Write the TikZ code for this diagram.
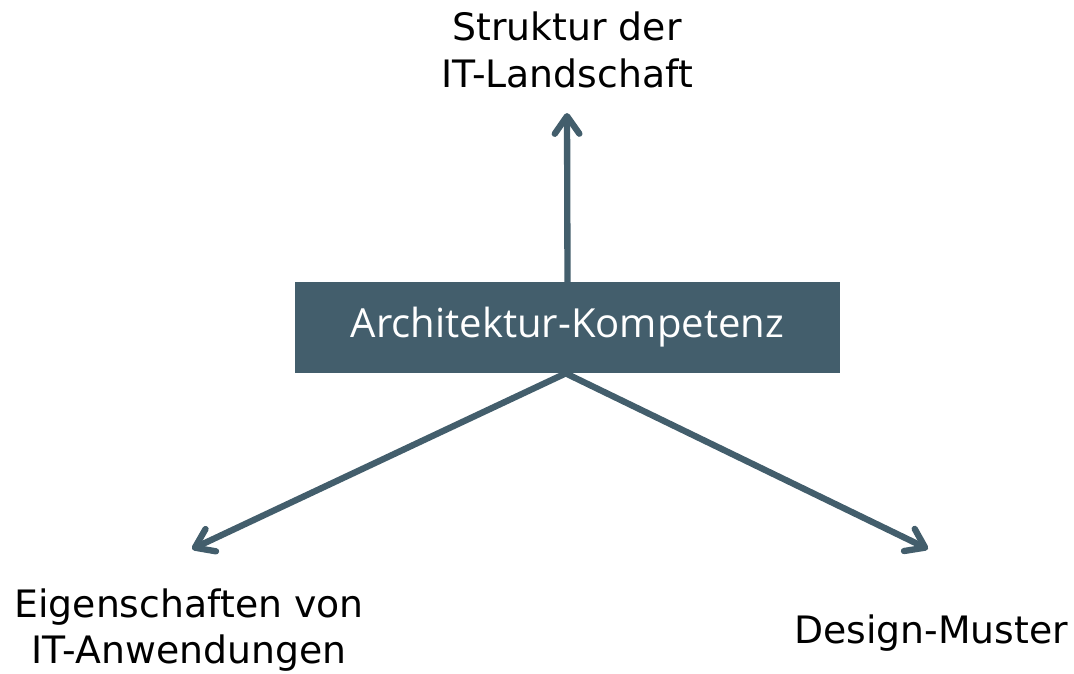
\documentclass[tikz,border=0pt]{standalone}
\usepackage{fontspec}
\setmainfont{DejaVu Sans}
\newfontfamily\boxfont{Open Sans}
\usepackage{xcolor}
\usetikzlibrary{arrows.meta}

\definecolor{slate}{RGB}{67,94,108}

\tikzset{
    kompetenz/.style={fill=slate, text=white, minimum width=545*0.02cm, minimum height=91*0.02cm, inner sep=0pt, font=\boxfont\fontsize{22.8}{27}\selectfont},
    thema/.style={align=center, font=\fontsize{21.5}{26.5}\selectfont, inner sep=0pt},
    pfeil/.style={draw=slate, line width=3.6pt, line cap=round, -{Straight Barb[length=10pt, width=14pt, line cap=round, line join=round]}}
}

\begin{document}
\begin{tikzpicture}[x=0.02cm, y=-0.02cm]
        \useasboundingbox (0,0) rectangle (1074,673);

        \node[kompetenz] (kern) at (567.5,327.5) {\raisebox{-2pt}{Architektur-Kompetenz}};

        \node[thema] (struktur) at (567,50) {Struktur der\\IT-Landschaft};
        \node[thema] (eigen) at (189,630) {Eigenschaften von\\IT-Anwendungen};
        \node[thema] (design) at (931,633) {Design-Muster};

        \coordinate (oben) at (567,113);
        \coordinate (links) at (192,549);
        \coordinate (rechts) at (928,549);

        \draw[pfeil] (kern.north) -- (oben);
        \draw[pfeil] ([xshift=-1pt]kern.south) -- (links);
        \draw[pfeil] ([xshift=-1pt]kern.south) -- (rechts);
    \end{tikzpicture}
\end{document}
